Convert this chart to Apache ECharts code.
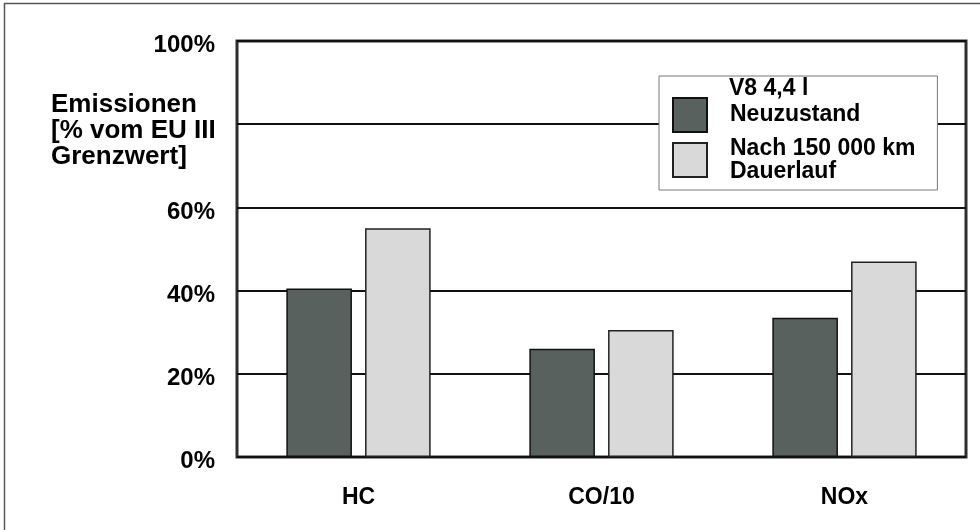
<!DOCTYPE html>
<html>
<head>
<meta charset="utf-8">
<script src="https://cdn.jsdelivr.net/npm/echarts@6/dist/echarts.min.js"></script>
<style>
  html, body { margin: 0; padding: 0; background: #fff; }
  #chart { width: 980px; height: 530px; }
</style>
</head>
<body>
<div id="chart"></div>
<script>
// Emissionen des V8 4,4 l Motors, in % vom EU III Grenzwert
var categories = ['HC', 'CO/10', 'NOx'];
var seriesNames = ['Neuzustand', 'Nach 150 000 km\nDauerlauf'];
var neuzustand = [40.5, 26, 33.5];
var dauerlauf = [55, 30.5, 47];
var yTickLabels = { 0: '0%', 20: '20%', 40: '40%', 60: '60%', 100: '100%' };

var FONT = '"Liberation Sans", Arial, Helvetica, sans-serif';

var chart = echarts.init(document.getElementById('chart'), null, { renderer: 'canvas' });

chart.setOption({
  backgroundColor: '#ffffff',
  animation: false,
  title: [
    {
      text: 'Emissionen\n[% vom EU III\nGrenzwert]',
      left: 51, top: 92,
      padding: 0,
      textStyle: { fontFamily: FONT, fontSize: 26, fontWeight: 'bold', color: '#000', lineHeight: 26 }
    },
    {
      text: 'V8 4,4 l',
      left: 729, top: 77,
      padding: 0,
      textStyle: { fontFamily: FONT, fontSize: 23, fontWeight: 'bold', color: '#000', lineHeight: 23 }
    }
  ],
  legend: {
    orient: 'vertical',
    left: 659, top: 76,
    padding: [21, 22, 7, 13],
    itemWidth: 34, itemHeight: 34,
    itemGap: 4,
    backgroundColor: '#fff',
    borderColor: '#777',
    borderWidth: 1,
    borderRadius: 0,
    icon: 'rect',
    textStyle: { fontFamily: FONT, fontSize: 23, fontWeight: 'bold', color: '#000', lineHeight: 23, padding: [0, 0, 0, 18] },
    data: seriesNames
  },
  grid: {
    left: 237, top: 41, right: 14, bottom: 73,
    show: true,
    borderColor: '#2e2e2e',
    borderWidth: 3,
    backgroundColor: 'transparent'
  },
  xAxis: {
    type: 'category',
    data: categories,
    axisLine: { show: false },
    axisTick: { show: false },
    axisLabel: { margin: 29, fontFamily: FONT, fontSize: 23, fontWeight: 'bold', color: '#000' }
  },
  yAxis: {
    type: 'value',
    min: 0, max: 100, interval: 20,
    axisLine: { show: false },
    axisTick: { show: false },
    splitLine: { lineStyle: { color: '#111', width: 2 } },
    axisLabel: {
      margin: 22,
      fontFamily: FONT, fontSize: 24, fontWeight: 'bold', color: '#000',
      formatter: function (v) { return yTickLabels[v] ? '{t|' + yTickLabels[v] + '}' : ''; },
      rich: {
        t: { fontFamily: FONT, fontSize: 24, fontWeight: 'bold', color: '#000', padding: [9, 0, 0, 0] }
      }
    }
  },
  graphic: [
    {
      type: 'rect',
      silent: true,
      shape: { x: 4.5, y: 3.5, width: 1000, height: 600 },
      style: { fill: 'none', stroke: '#555', lineWidth: 1.5 }
    }
  ],
  series: [
    {
      name: seriesNames[0],
      type: 'bar',
      data: neuzustand,
      barWidth: '27%',
      barGap: '20%',
      itemStyle: { color: '#59615f', borderColor: '#111', borderWidth: 1.5 }
    },
    {
      name: seriesNames[1],
      type: 'bar',
      data: dauerlauf,
      barWidth: '27%',
      itemStyle: { color: '#d9d9d9', borderColor: '#222', borderWidth: 1.5 }
    }
  ]
});
</script>
</body>
</html>
